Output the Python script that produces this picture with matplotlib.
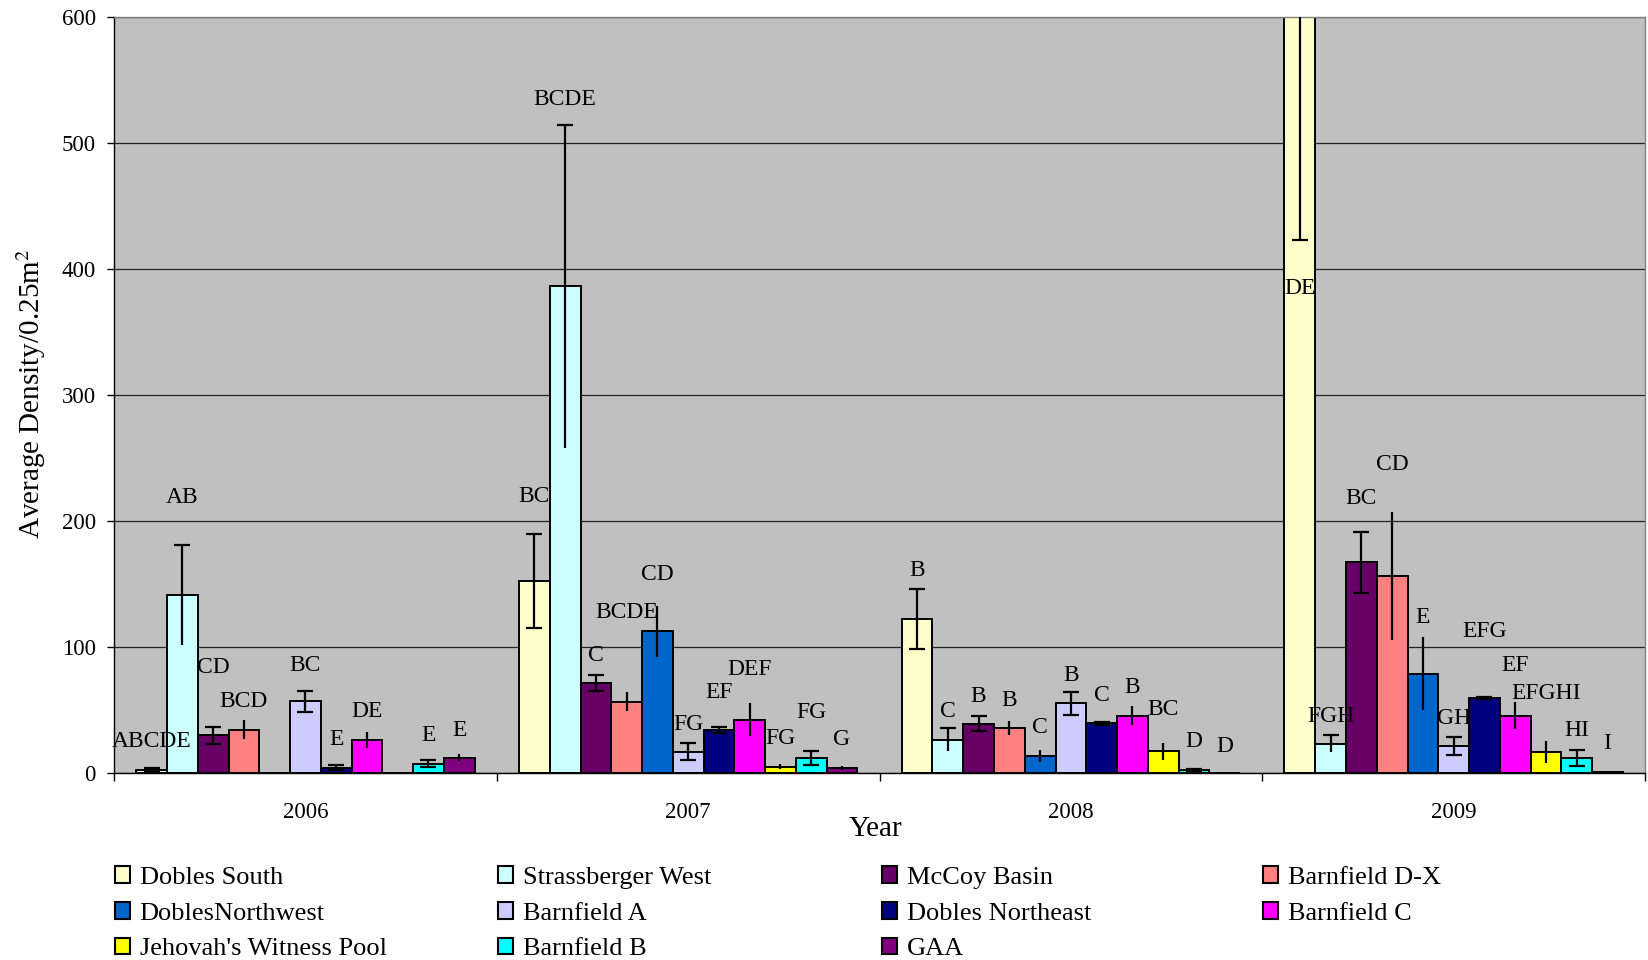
import numpy as np
import matplotlib
matplotlib.use("Agg")
import matplotlib.pyplot as plt
from matplotlib.patches import Patch

plt.rcParams['font.family'] = ['Liberation Serif', 'DejaVu Serif']
plt.rcParams['mathtext.fontset'] = 'stix'

years = ['2006', '2007', '2008', '2009']

sites = ['Dobles South', 'Strassberger West', 'McCoy Basin', 'Barnfield D-X',
         'DoblesNorthwest', 'Barnfield A', 'Dobles Northeast', 'Barnfield C',
         "Jehovah's Witness Pool", 'Barnfield B', 'GAA']

colors = ['#FFFFCC', '#CCFFFF', '#660066', '#FF8080',
          '#0066CC', '#CCCCFF', '#000080', '#FF00FF',
          '#FFFF00', '#00FFFF', '#800080']

# mean density per site, one value per year
dobles_south = [2.6, 152.5, 122.5, 780.0]
strassberger_west = [141.5, 386.5, 26.6, 23.4]
mccoy_basin = [30.0, 71.4, 39.4, 167.4]
barnfield_dx = [34.6, 56.8, 36.0, 156.5]
dobles_northwest = [0.0, 112.8, 13.8, 79.2]
barnfield_a = [57.0, 17.0, 55.4, 21.8]
dobles_northeast = [4.5, 34.6, 39.7, 60.0]
barnfield_c = [26.6, 42.6, 45.8, 45.8]
jehovah = [0.0, 5.3, 17.3, 16.8]
barnfield_b = [7.7, 12.0, 2.6, 12.0]
gaa = [12.5, 4.0, 0.0, 0.8]

# standard errors
dobles_south_se = [1.8, 37.5, 24.0, 357.0]
strassberger_west_se = [40.0, 128.0, 9.0, 6.6]
mccoy_basin_se = [6.5, 6.4, 5.7, 24.0]
barnfield_dx_se = [7.5, 7.5, 5.4, 50.7]
dobles_northwest_se = [0.0, 20.3, 4.6, 29.0]
barnfield_a_se = [8.2, 6.7, 9.4, 7.2]
dobles_northeast_se = [1.8, 2.5, 1.0, 0.8]
barnfield_c_se = [6.5, 13.0, 7.6, 10.4]
jehovah_se = [0.0, 2.0, 6.7, 9.0]
barnfield_b_se = [3.0, 5.6, 1.0, 6.4]
gaa_se = [2.8, 1.5, 0.0, 0.3]

# significance letters
dobles_south_grp = ['ABCDE', 'BC', 'B', 'DE']
strassberger_west_grp = ['AB', 'BCDE', 'C', 'FGH']
mccoy_basin_grp = ['CD', 'C', 'B', 'BC']
barnfield_dx_grp = ['BCD', 'BCDE', 'B', 'CD']
dobles_northwest_grp = ['', 'CD', 'C', 'E']
barnfield_a_grp = ['BC', 'FG', 'B', 'GH']
dobles_northeast_grp = ['E', 'EF', 'C', 'EFG']
barnfield_c_grp = ['DE', 'DEF', 'B', 'EF']
jehovah_grp = ['', 'FG', 'BC', 'EFGHI']
barnfield_b_grp = ['E', 'FG', 'D', 'HI']
gaa_grp = ['E', 'G', 'D', 'I']

values = [dobles_south, strassberger_west, mccoy_basin, barnfield_dx,
          dobles_northwest, barnfield_a, dobles_northeast, barnfield_c,
          jehovah, barnfield_b, gaa]
errors = [dobles_south_se, strassberger_west_se, mccoy_basin_se, barnfield_dx_se,
          dobles_northwest_se, barnfield_a_se, dobles_northeast_se, barnfield_c_se,
          jehovah_se, barnfield_b_se, gaa_se]
groups = [dobles_south_grp, strassberger_west_grp, mccoy_basin_grp, barnfield_dx_grp,
          dobles_northwest_grp, barnfield_a_grp, dobles_northeast_grp, barnfield_c_grp,
          jehovah_grp, barnfield_b_grp, gaa_grp]

# where the letters sit (y, data units)
letter_y = [[25.3, 220, 161, 385],
            [218.6, 535, 48.8, 45.3],
            [84, 93.3, 61.3, 218],
            [56.8, 127.4, 57.8, 245.3],
            [0, 157.8, 36, 123.4],
            [85.3, 38.6, 77.3, 43.2],
            [26.6, 64, 62, 112.8],
            [48.8, 82, 68, 85.3],
            [0, 27.4, 50.6, 63.4],
            [29.8, 48, 25.3, 34],
            [34, 26.6, 21.3, 23.4]]

# which caps get drawn on the error bars
caps = ['both', 'top', 'both', 'none', 'none', 'both', 'both', 'none',
        'none', 'both', 'none']

fig = plt.figure(figsize=(16.48, 9.6), dpi=100)
ax = fig.add_axes([0.0692, 0.1945, 0.929, 0.7873])
ax.set_facecolor('#C0C0C0')

n = len(sites)
w = 0.884 / n
x = np.arange(len(years))

for j in range(n):
    xs = x + (j - (n - 1) / 2) * w
    v = np.array(values[j])
    e = np.array(errors[j])
    ax.bar(xs, v, width=w, color=colors[j], edgecolor='black', linewidth=1.4, zorder=2)
    ax.vlines(xs, v - e, v + e, colors='black', linewidth=1.6, zorder=3)
    if caps[j] in ('both', 'top'):
        ax.plot(xs, v + e, ls='none', marker='_', ms=11, mew=1.6, color='black', zorder=3)
    if caps[j] == 'both':
        ax.plot(xs, v - e, ls='none', marker='_', ms=11, mew=1.6, color='black', zorder=3)
    for k in range(len(years)):
        if groups[j][k]:
            ax.text(xs[k], letter_y[j][k], groups[j][k], ha='center', va='center',
                    fontsize=17, zorder=4)

ax.set_xlim(-0.5, len(years) - 0.5)
ax.set_ylim(0, 600)
ax.set_yticks(np.arange(0, 601, 100))
ax.yaxis.grid(True, color='#222222', linewidth=0.9)
ax.set_axisbelow(True)

ax.set_xticks(x)
ax.set_xticklabels(years)
ax.set_xticks(np.arange(len(years) + 1) - 0.5, minor=True)
ax.tick_params(axis='x', which='major', length=0, pad=21, labelsize=16.5)
ax.tick_params(axis='x', which='minor', length=6, width=1, direction='out')
ax.tick_params(axis='y', length=5, width=1, direction='out', pad=8, labelsize=16.5)

for s in ('left', 'bottom'):
    ax.spines[s].set_color('black')
    ax.spines[s].set_linewidth(1.0)
for s in ('top', 'right'):
    ax.spines[s].set_color('#808080')
    ax.spines[s].set_linewidth(1.0)

fig.text(0.531, 0.136, 'Year', ha='center', va='center', fontsize=21)
fig.text(0.019, 0.59, r'Average Density/0.25m$^2$', rotation=90,
         ha='center', va='center', fontsize=21)

# legend laid out as four columns, filled row by row
col_x = [0.0698, 0.3022, 0.5353, 0.7664]
for c in range(4):
    idx = list(range(c, n, 4))
    handles = [Patch(facecolor=colors[i], edgecolor='black', linewidth=1.5) for i in idx]
    fig.legend(handles, [sites[i] for i in idx], loc='upper left',
               bbox_to_anchor=(col_x[c], 0.0975), frameon=False, fontsize=19,
               handlelength=0.58, handleheight=0.58, handletextpad=0.35,
               labelspacing=0.5, borderpad=0, borderaxespad=0)

fig.savefig('out.png', dpi=100)
